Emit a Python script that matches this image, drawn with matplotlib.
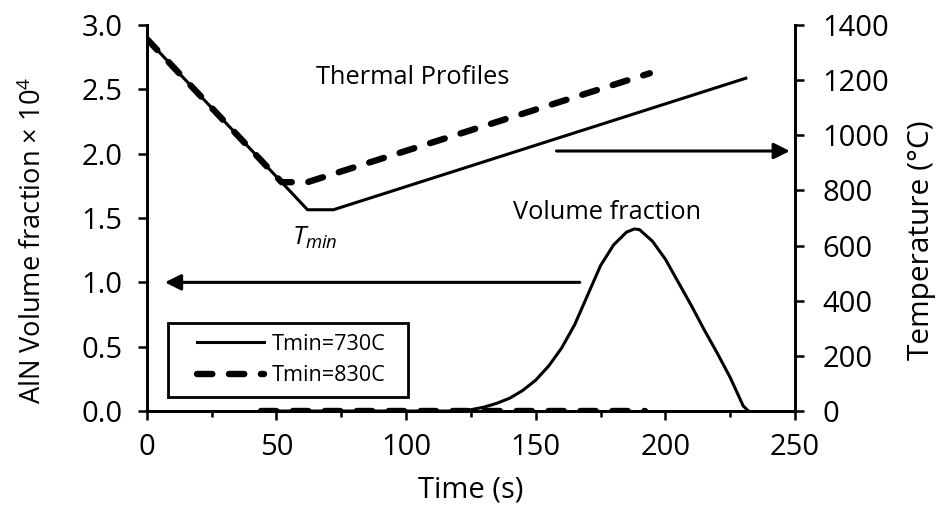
import matplotlib

matplotlib.use("Agg")
import matplotlib.pyplot as plt
from matplotlib.patches import Rectangle
from matplotlib.ticker import FormatStrFormatter, MultipleLocator

plt.rcParams["font.family"] = ["Open Sans", "DejaVu Sans"]
plt.rcParams["mathtext.fontset"] = "custom"
plt.rcParams["mathtext.rm"] = "Open Sans"
plt.rcParams["mathtext.it"] = "Open Sans:italic"

# thermal profiles (right axis, deg C)
time_730 = [0, 62, 72, 231]
temp_730 = [1350, 730, 730, 1207]
time_830 = [0, 52, 62, 194]
temp_830 = [1350, 830, 830, 1225]

# AlN volume fraction x 1e4 (left axis)
vf_time_730 = [44, 120, 125, 130, 135, 140, 145, 150, 155, 160, 165, 170, 175,
               180, 185, 188, 190, 195, 200, 205, 210, 215, 220, 225, 230, 232]
vf_730 = [0, 0, 0.01, 0.03, 0.06, 0.10, 0.16, 0.24, 0.35, 0.49, 0.67, 0.90, 1.13,
          1.29, 1.39, 1.415, 1.41, 1.32, 1.18, 1.00, 0.82, 0.63, 0.45, 0.26, 0.04, 0]
vf_time_830 = [44, 192]
vf_830 = [0, 0]

DASH = dict(lw=4.6, dashes=(2.4, 2.6), dash_capstyle="round", color="black")
SOLID = dict(lw=2.2, color="black", solid_joinstyle="round")
TICK_FS = 21

fig = plt.figure(figsize=(9.37, 5.21), dpi=100)
ax = fig.add_axes([0.1566, 0.2111, 0.6919, 0.7409])
ax2 = ax.twinx()

ax.plot(vf_time_730, vf_730, label="Tmin=730C", **SOLID)
ax.plot(vf_time_830, vf_830, label="Tmin=830C", **DASH)
ax2.plot(time_730, temp_730, **SOLID)
ax2.plot(time_830, temp_830, **DASH)

ax.set_xlim(0, 250)
ax.set_ylim(0, 3.0)
ax2.set_ylim(0, 1400)
ax.xaxis.set_major_locator(MultipleLocator(50))
ax.xaxis.set_minor_locator(MultipleLocator(25))
ax.yaxis.set_major_locator(MultipleLocator(0.5))
ax2.yaxis.set_major_locator(MultipleLocator(200))
ax.yaxis.set_major_formatter(FormatStrFormatter("%.1f"))

for a in (ax, ax2):
    for s in a.spines.values():
        s.set_linewidth(2.0)
    a.spines["top"].set_visible(False)
ax.tick_params(axis="both", which="major", direction="out", length=6.5, width=1.8,
               labelsize=TICK_FS, pad=11)
ax.tick_params(axis="x", which="minor", direction="out", length=4.5, width=1.8)
ax.tick_params(axis="x", which="major", pad=9)
ax2.tick_params(axis="y", direction="out", length=6.5, width=1.8, labelsize=TICK_FS, pad=13)

ax.set_xlabel("Time (s)", fontsize=TICK_FS, labelpad=10)
ax.set_ylabel("AlN Volume fraction × 10$^4$", fontsize=19.6)
ax2.set_ylabel("Temperature (°C)", fontsize=21.5, rotation=90)
ax.yaxis.set_label_coords(-0.153, 0.443)
ax2.yaxis.set_label_coords(1.173, 0.443)

# axis-pointer arrows
ax.annotate("", xy=(7, 1.0), xytext=(167, 1.0),
            arrowprops=dict(arrowstyle="-|>", color="black", lw=2.2, mutation_scale=24,
                            shrinkA=0, shrinkB=0))
ax2.annotate("", xy=(248, 943), xytext=(158, 943),
             arrowprops=dict(arrowstyle="-|>", color="black", lw=2.2, mutation_scale=24,
                             shrinkA=0, shrinkB=0))

ax.text(102.7, 2.595, "Thermal Profiles", fontsize=18.3, ha="center", va="center")
ax.text(177.4, 1.546, "Volume fraction", fontsize=18.3, ha="center", va="center")
ax.text(64.7, 1.344, "$T_{min}$", fontsize=19, ha="center", va="center")

# legend box drawn separately so its padding matches the original
ax.add_patch(Rectangle((0.0324, 0.0363), 0.3704, 0.1917, transform=ax.transAxes,
                       fill=True, facecolor="white", edgecolor="black", lw=2.0, zorder=4))
leg = ax.legend(loc="center left", bbox_to_anchor=(0.077, 0.132), borderaxespad=0,
                borderpad=0, fontsize=15.6, frameon=False, handlelength=3.1,
                handletextpad=0.37, labelspacing=0.47)
leg.set_zorder(5)

fig.savefig("out.png", dpi=100)
